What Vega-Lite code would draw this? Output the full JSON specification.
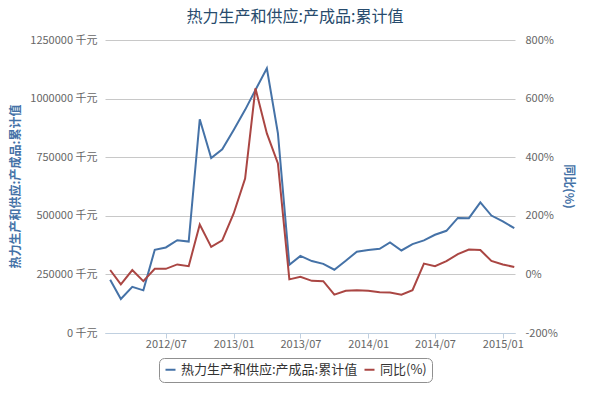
{
  "$schema": "https://vega.github.io/schema/vega-lite/v6.json",
  "width": 410,
  "height": 293,
  "autosize": {"type": "none"},
  "padding": {"left": 105, "top": 40, "right": 74, "bottom": 63},
  "background": "white",
  "title": {"text": "热力生产和供应:产成品:累计值", "fontSize": 16, "font": "Noto Sans CJK SC", "fontWeight": "normal", "color": "#274b6d", "anchor": "middle", "dx": -15, "offset": 9},
  "data": {"values": [
    {"date": "2012/02/01", "value": 227000, "pct": 15},
    {"date": "2012/03/01", "value": 145000, "pct": -34},
    {"date": "2012/04/01", "value": 197000, "pct": 15},
    {"date": "2012/05/01", "value": 182000, "pct": -23},
    {"date": "2012/06/01", "value": 355000, "pct": 19},
    {"date": "2012/07/01", "value": 365000, "pct": 19},
    {"date": "2012/08/01", "value": 396000, "pct": 34},
    {"date": "2012/09/01", "value": 390000, "pct": 28},
    {"date": "2012/10/01", "value": 912000, "pct": 170},
    {"date": "2012/11/01", "value": 746000, "pct": 94},
    {"date": "2012/12/01", "value": 784000, "pct": 116},
    {"date": "2013/01/01", "value": 866000, "pct": 208},
    {"date": "2013/02/01", "value": 952000, "pct": 327},
    {"date": "2013/03/01", "value": 1037000, "pct": 635},
    {"date": "2013/04/01", "value": 1129000, "pct": 481},
    {"date": "2013/05/01", "value": 852000, "pct": 379},
    {"date": "2013/06/01", "value": 291000, "pct": -17},
    {"date": "2013/07/01", "value": 329000, "pct": -8},
    {"date": "2013/08/01", "value": 307000, "pct": -22},
    {"date": "2013/09/01", "value": 295000, "pct": -23},
    {"date": "2013/10/01", "value": 270000, "pct": -69},
    {"date": "2013/11/01", "value": 308000, "pct": -56},
    {"date": "2013/12/01", "value": 347000, "pct": -54},
    {"date": "2014/01/01", "value": 354000, "pct": -56},
    {"date": "2014/02/01", "value": 359000, "pct": -61},
    {"date": "2014/03/01", "value": 386000, "pct": -62},
    {"date": "2014/04/01", "value": 352000, "pct": -69},
    {"date": "2014/05/01", "value": 379000, "pct": -54},
    {"date": "2014/06/01", "value": 395000, "pct": 37},
    {"date": "2014/07/01", "value": 419000, "pct": 28},
    {"date": "2014/08/01", "value": 436000, "pct": 45},
    {"date": "2014/09/01", "value": 491000, "pct": 69},
    {"date": "2014/10/01", "value": 490000, "pct": 85},
    {"date": "2014/11/01", "value": 557000, "pct": 83},
    {"date": "2014/12/01", "value": 501000, "pct": 46},
    {"date": "2015/01/01", "value": 476000, "pct": 34},
    {"date": "2015/02/01", "value": 447000, "pct": 25}
  ]},
  "encoding": {
    "x": {
      "field": "date", "type": "temporal",
      "scale": {"domain": [{"year": 2012, "month": 1, "date": 18}, {"year": 2015, "month": 2, "date": 3}]},
      "axis": {
        "title": null, "format": "%Y/%m", "tickCount": {"interval": "month", "step": 6},
        "grid": false, "domainColor": "#C0D0E0", "tickColor": "#C0D0E0", "tickSize": 5,
        "labelColor": "#666666", "labelFontSize": 11, "labelPadding": 0, "labelFont": "Noto Sans CJK SC"
      }
    }
  },
  "layer": [
    {
      "mark": {"type": "line", "strokeWidth": 2},
      "encoding": {
        "y": {
          "field": "value", "type": "quantitative",
          "scale": {"domain": [0, 1250000], "nice": false},
          "axis": {
            "values": [0, 250000, 500000, 750000, 1000000, 1250000],
            "labelExpr": "format(datum.value, 'd') + ' 千元'",
            "grid": true, "gridColor": "#C8C8C8", "domain": false, "ticks": false,
            "labelColor": "#666666", "labelFontSize": 11, "labelPadding": 8, "labelFont": "Noto Sans CJK SC",
            "title": "热力生产和供应:产成品:累计值", "titleColor": "#4572A7", "titleFontSize": 12, "titleFontWeight": "bold",
            "titleFont": "Noto Sans CJK SC", "titleAngle": 270, "titleX": -90, "titleY": 146, "titleBaseline": "middle", "titleAlign": "center"
          }
        },
        "color": {
          "datum": "热力生产和供应:产成品:累计值", "type": "nominal",
          "scale": {"domain": ["热力生产和供应:产成品:累计值", "同比(%)"], "range": ["#4572A7", "#AA4643"]},
          "legend": {
            "title": null, "orient": "none", "legendX": 54, "legendY": 318, "direction": "horizontal",
            "strokeColor": "#909090", "cornerRadius": 5, "padding": 5,
            "symbolType": "stroke", "symbolStrokeWidth": 2, "symbolSize": 100,
            "labelFontSize": 13, "labelColor": "#333333", "labelFont": "Noto Sans CJK SC", "labelLimit": 300, "columnPadding": 2
          }
        }
      }
    },
    {
      "mark": {"type": "line", "strokeWidth": 2},
      "encoding": {
        "y": {
          "field": "pct", "type": "quantitative",
          "scale": {"domain": [-200, 800], "nice": false},
          "axis": {
            "orient": "right",
            "values": [-200, 0, 200, 400, 600, 800],
            "labelExpr": "datum.value + '%'",
            "grid": false, "domain": false, "ticks": false,
            "labelColor": "#666666", "labelFontSize": 11, "labelPadding": 10, "labelFont": "Noto Sans CJK SC",
            "title": "同比(%)", "titleColor": "#4572A7", "titleFontSize": 12, "titleFontWeight": "bold",
            "titleFont": "Noto Sans CJK SC", "titleAngle": 90, "titleX": 53, "titleY": 146, "titleBaseline": "middle", "titleAlign": "center"
          }
        },
        "color": {"datum": "同比(%)", "type": "nominal"}
      }
    }
  ],
  "resolve": {"scale": {"y": "independent"}},
  "config": {"view": {"stroke": null}, "font": "Noto Sans CJK SC"}
}
